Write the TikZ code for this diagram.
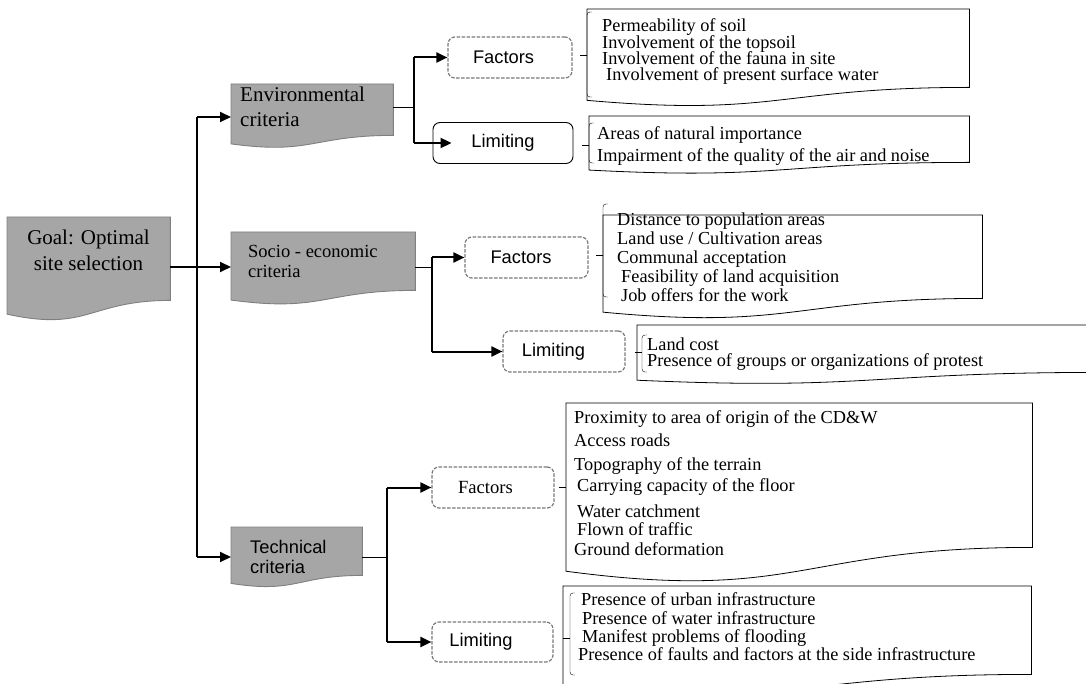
\documentclass[tikz,border=0pt]{standalone}
\usepackage{fontspec}
\setmainfont{Liberation Serif}
\setsansfont{Liberation Sans}
\usetikzlibrary{calc,arrows.meta}

\definecolor{critfill}{HTML}{A6A6A6}
\definecolor{critline}{HTML}{7F7F7F}
\definecolor{dashgray}{HTML}{7A7A7A}

\setlength{\lineskiplimit}{-50pt}

% document shape (wavy bottom) around an empty node
\newcommand{\docpath}[1]{(#1.north west) -- (#1.north east) -- (#1.south east)
	.. controls (#1.south) and ($(#1.south)!-0.38!(#1.north)$)
	.. ($(#1.south west)!-0.165!(#1.north west)$) -- cycle}

% bracket in front of a list: x, top, bottom, tick
\newcommand{\listbrace}[4]{%
	\draw[rounded corners=3pt] (#1+5,#2) -- (#1,#2) -- (#1,#3) -- (#1+5,#3);
	\draw (#1-7,#4) -- (#1,#4);}

\tikzset{
	docnode/.style={inner sep=0, anchor=north west},
	critshape/.style={fill=critfill, draw=critline, line width=0.9pt},
	listshape/.style={draw=black, line width=0.8pt},
	crittext/.style={inner sep=0, align=left, anchor=west},
	listtext/.style={inner sep=0, align=left, anchor=north west,
		font=\fontsize{18.3}{#1}\selectfont},
	subbox/.style={rounded corners=7pt, minimum width=#1, minimum height=41,
		inner sep=0, font=\sffamily\fontsize{18.3}{22}\selectfont},
	dashbox/.style={subbox=#1, draw=dashgray, line width=1.2pt,
		dash pattern=on 3.5pt off 1.5pt},
	solidbox/.style={subbox=#1, draw=black, line width=0.9pt},
	trunk/.style={line width=2pt},
	arr/.style={line width=2pt, -{Triangle[length=11pt,width=10pt]}},
	stub/.style={line width=1pt}
}

\begin{document}
\begin{tikzpicture}[x=1pt, y=-1pt]

	\useasboundingbox (0,0) rectangle (1086,684);
	\clip (0,0) rectangle (1086,684);

% criteria boxes %{{{2

	\node[docnode, minimum width=163, minimum height=83] (goal) at (7,217) {};
	\node[docnode, minimum width=162, minimum height=51] (env) at (231,84) {};
	\node[docnode, minimum width=184, minimum height=58] (socio) at (231,232) {};
	\node[docnode, minimum width=131, minimum height=48] (tech) at (231,527) {};

	\draw[critshape] \docpath{goal};
	\draw[critshape] \docpath{env};
	\draw[critshape] \docpath{socio};
	\draw[critshape] \docpath{tech};

	\node[crittext, anchor=center, align=center, font=\fontsize{21}{25.5}\selectfont]
		(goaltext) at (88.5,250.5) {Goal: Optimal\\site selection};
	\node[crittext, font=\fontsize{21}{25}\selectfont]
		(envtext) at (240,107) {Environmental\\criteria};
	\node[crittext, font=\fontsize{18.5}{20}\selectfont]
		(socitext) at (248,261.3) {Socio - economic\\criteria};
	\node[crittext, font=\sffamily\fontsize{18.3}{20}\selectfont]
		(techtext) at (250,557.3) {Technical\\criteria};

% factors and limiting %{{{2

	\node[dashbox=124] (envfac) at (510,57.5) {Factors\hspace*{13pt}};
	\node[solidbox=140] (envlim) at (503,143) {Limiting};
	\node[dashbox=123] (socfac) at (526.5,257.5) {Factors\hspace*{11pt}};
	\node[dashbox=122] (soclim) at (564,351.5) {Limiting\hspace*{21pt}};
	\node[dashbox=122, font=\rmfamily\fontsize{18.6}{22}\selectfont]
		(tecfac) at (493,487.5) {Factors\hspace*{15pt}};
	\node[dashbox=121, minimum height=40] (teclim) at (492.5,642) {Limiting\hspace*{23pt}};

% list boxes %{{{2

	\node[docnode, minimum width=382, minimum height=78] (envfacbox) at (587,9) {};
	\node[docnode, minimum width=380, minimum height=46] (envlimbox) at (589,116) {};
	\node[docnode, minimum width=379, minimum height=83] (socfacbox) at (603,215) {};
	\node[docnode, minimum width=463, minimum height=47] (soclimbox) at (637,325) {};
	\node[docnode, minimum width=466, minimum height=144] (tecfacbox) at (566,403) {};
	\node[docnode, minimum width=468, minimum height=88] (teclimbox) at (563,586) {};

	\draw[listshape] \docpath{envfacbox};
	\draw[listshape] \docpath{envlimbox};
	\draw[listshape] \docpath{socfacbox};
	\draw[listshape] \docpath{soclimbox};
	\draw[listshape] \docpath{tecfacbox};
	\draw[listshape] \docpath{teclimbox};

% brackets %{{{2

	\listbrace{587}{12}{97}{55}
	\listbrace{589}{123}{163}{145}
	\listbrace{603}{204}{297}{255}
	\listbrace{642}{335}{372}{352}
	\listbrace{570}{593}{675}{638}
	\draw ([xshift=-7pt]tecfacbox.west |- tecfac.east) -- (tecfacbox.west |- tecfac.east);

% list texts %{{{2

	\node[listtext=16.3] (envfactext) at (602,18.8)
		{Permeability of soil\\Involvement of the topsoil\\Involvement of the fauna in site\\
		\hspace*{4pt}Involvement of present surface water};
	\node[listtext=22] (envlimtext) at (597,126.8)
		{Areas of natural importance\\Impairment of the quality of the air and noise};
	\node[listtext=19] (socfactext) at (617,212.8)
		{Distance to population areas\\Land use / Cultivation areas\\Communal acceptation\\
		\hspace*{4pt}Feasibility of land acquisition\\\hspace*{4pt}Job offers for the work};
	\node[listtext=16] (soclimtext) at (647,338)
		{Land cost\\Presence of groups or organizations of protest};
	\node[listtext=20] (tecfactext) at (574,410.8)
		{Proximity to area of origin of the CD\&W\\[3pt]Access roads\\[4pt]
		Topography of the terrain\\[1pt]\hspace*{3pt}Carrying capacity of the floor\\[6pt]
		\hspace*{3pt}Water catchment\\[-2pt]\hspace*{3pt}Flown of traffic\\
		Ground deformation};
	\node[listtext=18.3] (teclimtext) at (578,592.8)
		{\hspace*{3pt}Presence of urban infrastructure\\\hspace*{4pt}Presence of water infrastructure\\
		\hspace*{4pt}Manifest problems of flooding\\Presence of faults and factors at the side infrastructure};

% main trunk %{{{2

	\coordinate (T1) at (197,117);
	\coordinate (T2) at (197,557);
	\coordinate (M) at (197,267);

	\draw[trunk] (T1) -- (T2);
	\draw[arr] (goal.east |- M) -- (socio.west |- M);
	\draw[arr] (T1) -- (env.west |- T1);
	\draw[arr] (T2) -- (tech.west |- T2);

% branches %{{{2

	\coordinate (EB) at (414,108);
	\coordinate (SB) at (432,268);
	\coordinate (TB) at (387,557);

	\draw[stub] (env.east |- EB) -- (EB);
	\draw[trunk] (EB |- envfac) -- (EB |- envlim);
	\draw[arr] (EB |- envfac) -- (envfac.west);
	\draw[arr] (EB |- envlim) -- ([xshift=19pt]envlim.west);

	\draw[stub] (socio.east |- SB) -- (SB);
	\draw[trunk] (SB |- socfac) -- (SB |- soclim);
	\draw[arr] (SB |- socfac) -- (socfac.west);
	\draw[arr] (SB |- soclim) -- (soclim.west);

	\draw[stub] (tech.east |- TB) -- (TB);
	\draw[trunk] (TB |- tecfac) -- (TB |- teclim);
	\draw[arr] (TB |- tecfac) -- (tecfac.west);
	\draw[arr] (TB |- teclim) -- (teclim.west);

\end{tikzpicture}
\end{document}
